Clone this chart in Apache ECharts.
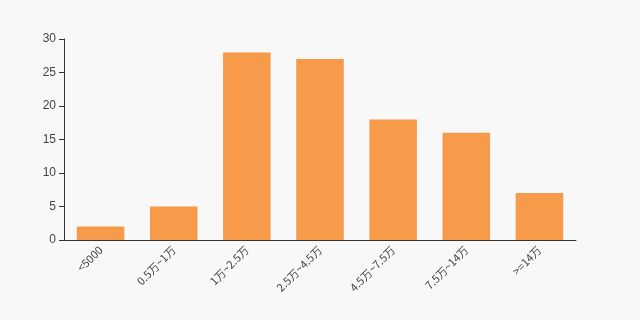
<!DOCTYPE html>
<html><head><meta charset="utf-8">
<script src="https://cdn.jsdelivr.net/npm/echarts@6/dist/echarts.min.js"></script>
<style>html,body{margin:0;padding:0;background:#f8f8f8}#c{width:640px;height:320px}</style>
</head><body><div id="c"></div>
<script>
const categories = ["<5000","0.5万~1万","1万~2.5万","2.5万~4.5万","4.5万~7.5万","7.5万~14万",">=14万"];
const values = [2,5,28,27,18,16,7];
const chart = echarts.init(document.getElementById('c'));
chart.setOption({
  backgroundColor:'#f8f8f8',
  animation:false,
  grid:{left:64,right:64,top:39,bottom:80},
  xAxis:{type:'category',data:categories,
    axisLine:{lineStyle:{color:'#333'}},
    axisTick:{lineStyle:{color:'#333'}},
    axisLabel:{rotate:45,color:'#444',fontSize:11,interval:0,fontFamily:'Noto Sans CJK SC, sans-serif'}},
  yAxis:{type:'value',min:0,max:30,interval:5,
    axisLine:{show:true,lineStyle:{color:'#333'}},
    axisTick:{show:true,lineStyle:{color:'#333'}},
    splitLine:{show:false},
    axisLabel:{color:'#444',fontSize:12}},
  series:[{type:'bar',data:values,barWidth:'65%',itemStyle:{color:'#f79a4a'}}]
});
</script></body></html>
